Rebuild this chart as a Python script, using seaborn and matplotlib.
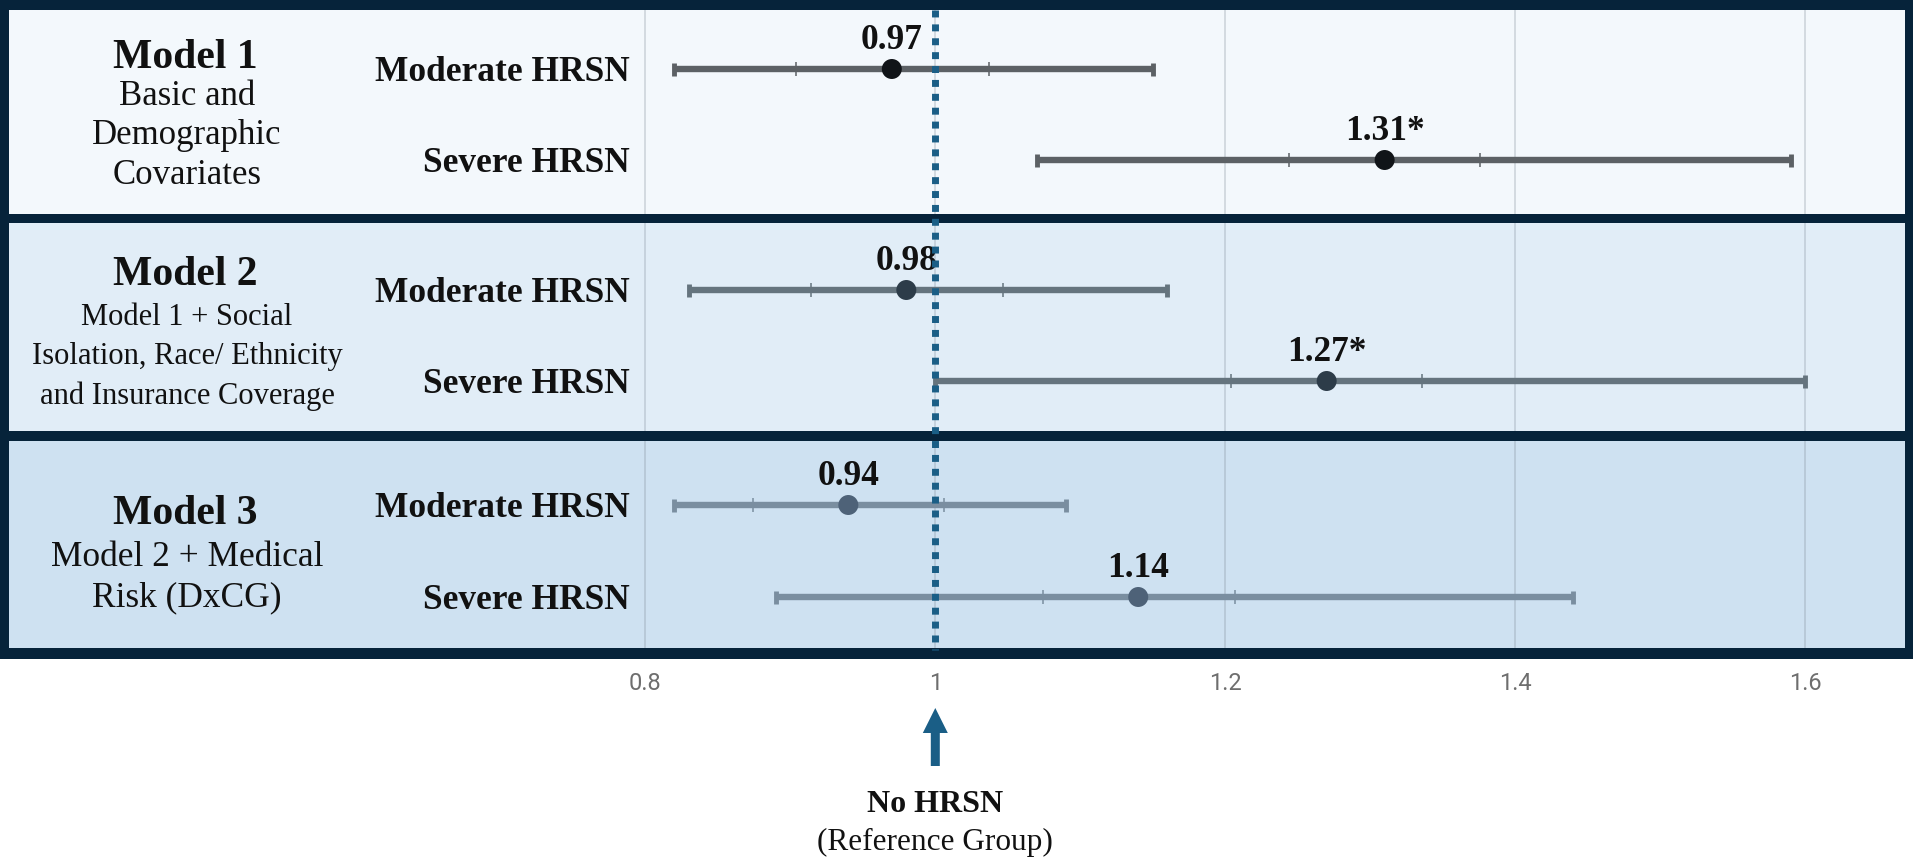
import numpy as np
import pandas as pd
import matplotlib
matplotlib.use("Agg")
import matplotlib.pyplot as plt
import seaborn as sns
from matplotlib.patches import FancyArrow

# ---------------- data ----------------
models = ["Model 1", "Model 2", "Model 3"]
model_subtitles = [
    ["Basic and", "Demographic", "Covariates"],
    ["Model 1 + Social", "Isolation, Race/ Ethnicity", "and Insurance Coverage"],
    ["Model 2 + Medical", "Risk (DxCG)"],
]
groups = ["Moderate HRSN", "Severe HRSN"]
odds_ratio = [0.97, 1.31, 0.98, 1.27, 0.94, 1.14]
ci_low = [0.82, 1.07, 0.83, 1.00, 0.82, 0.89]
ci_high = [1.15, 1.59, 1.16, 1.60, 1.09, 1.44]
inner_low = [0.904, 1.244, 0.914, 1.204, 0.874, 1.074]
inner_high = [1.037, 1.376, 1.047, 1.336, 1.006, 1.207]
value_labels = ["0.97", "1.31*", "0.98", "1.27*", "0.94", "1.14"]
x_ticks = [0.8, 1.0, 1.2, 1.4, 1.6]
x_tick_labels = ["0.8", "1", "1.2", "1.4", "1.6"]
reference_value = 1.0
reference_label = "No HRSN"
reference_sub = "(Reference Group)"

# ---------------- style / layout ----------------
border_c = "#06233A"
panel_bg = ["#F3F8FC", "#E1EDF7", "#CEE1F1"]
line_c = ["#5C6165", "#65747E", "#7A8EA0"]
point_c = ["#101418", "#2D3C49", "#4E6278"]
ref_c = "#1A5E86"

W, H = 1913, 859
AX_H = 659                      # axes covers top 659 px of figure
PX_PER_UNIT = 1449.5
XL = 0.8 - 645.4 / PX_PER_UNIT
XR = XL + W / PX_PER_UNIT


def px2x(px):
    return XL + px / PX_PER_UNIT


row_y = [69, 160, 290, 381, 505, 597]
panel_spans = [(10, 214), (223, 431), (441, 648)]
border_spans = [(0, 10), (214, 223), (431, 441), (648, 659)]
title_y = [54, 271, 510]
sub_y = [[94, 133, 173], [315, 354, 394], [554, 595]]
sub_size = [25, 22, 25.5]

sns.set_theme(style="white")
plt.rcParams["font.family"] = ["Liberation Serif", "DejaVu Serif"]

fig = plt.figure(figsize=(W / 100, H / 100), dpi=100)
fig.patch.set_facecolor("white")
ax = fig.add_axes([0, (H - AX_H) / H, 1, AX_H / H])
ax.set_facecolor(border_c)

# panels
for i, (y0, y1) in enumerate(panel_spans):
    ax.axhspan(y0, y1, xmin=9 / W, xmax=1905 / W, color=panel_bg[i], lw=0, zorder=0.1)
for (y0, y1) in border_spans:
    ax.axhspan(y0, y1, color=border_c, lw=0, zorder=1)

# data frame
df = pd.DataFrame({
    "model": np.repeat(models, len(groups)),
    "group": groups * len(models),
    "odds_ratio": odds_ratio,
    "ci_low": ci_low,
    "ci_high": ci_high,
    "inner_low": inner_low,
    "inner_high": inner_high,
    "label": value_labels,
    "row_y": row_y,
})

# error bars
for i, r in df.iterrows():
    m = models.index(r["model"])
    c = line_c[m]
    y = r["row_y"]
    ax.hlines(y, r["ci_low"], r["ci_high"], color=c, lw=4.6, zorder=2)
    ax.vlines([r["ci_low"], r["ci_high"]], y - 6.5, y + 6.5, color=c, lw=3.5, zorder=2)
    ax.vlines([r["inner_low"], r["inner_high"]], y - 7, y + 7, color=c, lw=1.1, zorder=2)

# points
sns.scatterplot(data=df, x="odds_ratio", y="row_y", hue="model", palette=point_c,
                s=207, edgecolor="none", linewidth=0, legend=False, zorder=3, ax=ax)

# value labels
for i, r in df.iterrows():
    ax.text(r["odds_ratio"], r["row_y"] - 20, r["label"], ha="center", va="baseline",
            fontsize=25.5, fontweight="bold", color="#111111", zorder=4)

# group labels
lab_size = 25.5
for i, r in df.iterrows():
    ax.text(px2x(630), r["row_y"] + 0.331 * lab_size * 100 / 72, r["group"],
            ha="right", va="baseline", fontsize=lab_size, fontweight="bold",
            color="#111111", zorder=4)

# model titles
for m in range(len(models)):
    ax.text(px2x(185), title_y[m] + 0.331 * 30 * 100 / 72, models[m], ha="center",
            va="baseline", fontsize=30, fontweight="bold", color="#111111", zorder=4)
    for k, line in enumerate(model_subtitles[m]):
        s = sub_size[m]
        ax.text(px2x(187), sub_y[m][k] + 0.331 * s * 100 / 72, line, ha="center",
                va="baseline", fontsize=s, color="#111111", zorder=4)

# reference dotted line
ax.plot([reference_value, reference_value], [10, 650], color=ref_c, lw=5,
        linestyle=(0, (1, 1)), dash_capstyle="butt", zorder=5)

# axes setup
ax.set_xlim(XL, XR)
ax.set_ylim(AX_H, 0)
ax.set_xticks(x_ticks)
ax.set_xticklabels(x_tick_labels, fontfamily="Roboto", fontsize=17, color="#6E6E6E")
ax.set_yticks([])
ax.tick_params(axis="x", length=0, pad=9)
ax.grid(axis="x", color="#7F8C99", alpha=0.3, lw=1.3)
ax.grid(axis="y", visible=False)
ax.set_axisbelow(True)
for sp in ax.spines.values():
    sp.set_visible(False)
ax.set_xlabel("")
ax.set_ylabel("")

# arrow + reference text below the axes
arr = FancyArrow(reference_value, 766, 0, -58, width=9 / PX_PER_UNIT,
                 head_width=25 / PX_PER_UNIT, head_length=25,
                 length_includes_head=True, color=ref_c, lw=0, clip_on=False)
ax.add_patch(arr)
ax.text(reference_value, 801 + 0.331 * 23 * 100 / 72, reference_label, ha="center",
        va="baseline", fontsize=23, fontweight="bold", color="#111111", clip_on=False)
ax.text(reference_value, 840 + 0.331 * 22.5 * 100 / 72, reference_sub, ha="center",
        va="baseline", fontsize=22.5, color="#111111", clip_on=False)

fig.savefig("out.png", dpi=100, facecolor="white")
